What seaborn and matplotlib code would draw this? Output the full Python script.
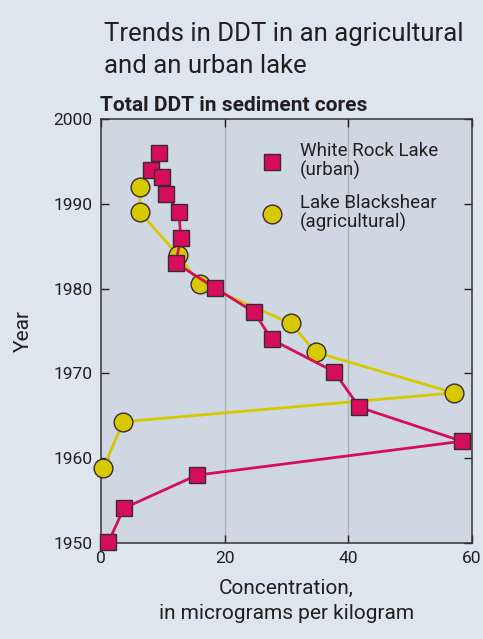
"""Trends in DDT in sediment cores: urban vs agricultural lake."""

import matplotlib
matplotlib.use("Agg")
import matplotlib.pyplot as plt
from matplotlib.lines import Line2D
import pandas as pd
import seaborn as sns

# White Rock Lake (urban) -- squares
white_rock_year = [1996.0, 1994.0, 1993.2, 1991.1, 1989.0, 1986.0, 1983.0, 1980.1,
                   1977.2, 1974.0, 1970.2, 1966.0, 1962.0, 1958.0, 1954.1, 1950.1]
white_rock_conc = [9.4, 8.1, 9.8, 10.5, 12.6, 12.9, 12.1, 18.4,
                   24.8, 27.6, 37.7, 41.8, 58.4, 15.5, 3.7, 1.2]

# Lake Blackshear (agricultural) -- circles
blackshear_year = [1992.0, 1989.0, 1984.0, 1980.6, 1975.9, 1972.5, 1967.7, 1964.3, 1958.9]
blackshear_conc = [6.3, 6.3, 12.4, 16.0, 30.7, 34.7, 57.1, 3.6, 0.4]

x_ticks = [0, 20, 40, 60]
y_ticks = [1950, 1960, 1970, 1980, 1990, 2000]

PINK = "#D60D5C"
YELLOW = "#D8C800"
EDGE = "#3a2a30"
BG = "#DDE5EE"
AX_BG = "#CFD8E2"
TXT = "#231F20"

sns.set_theme(style="white")
plt.rcParams["font.family"] = ["Roboto", "DejaVu Sans"]

wr = pd.DataFrame({"conc": white_rock_conc, "year": white_rock_year})
bs = pd.DataFrame({"conc": blackshear_conc, "year": blackshear_year})

fig = plt.figure(figsize=(4.83, 6.39), dpi=100, facecolor=BG)
ax = fig.add_axes([101 / 483, 1 - 543 / 639, 371 / 483, 424 / 639])
ax.set_facecolor(AX_BG)

for xv in [20, 40]:
    ax.axvline(xv, color="#aab0b8", lw=1.0, zorder=0)

sns.lineplot(data=bs, x="conc", y="year", sort=False, estimator=None, ax=ax,
             color=YELLOW, lw=2.0, marker="o", markersize=13.5,
             markerfacecolor=YELLOW, markeredgecolor=EDGE, markeredgewidth=1.0,
             clip_on=False, zorder=3)
sns.lineplot(data=wr, x="conc", y="year", sort=False, estimator=None, ax=ax,
             color=PINK, lw=2.0, marker="s", markersize=12,
             markerfacecolor=PINK, markeredgecolor=EDGE, markeredgewidth=1.0,
             clip_on=False, zorder=4)

ax.set_xlim(0, 60)
ax.set_ylim(1950, 2000)
ax.set_xticks(x_ticks)
ax.set_yticks(y_ticks)
ax.tick_params(direction="in", length=6, width=1, color=TXT,
               top=True, right=True, bottom=True, left=True,
               labelsize=12.5, labelcolor=TXT, pad=6)
for s in ax.spines.values():
    s.set_color("#333333")
    s.set_linewidth(1.1)

ax.set_xlabel("Concentration,\nin micrograms per kilogram", fontsize=15,
              color=TXT, labelpad=9, linespacing=1.4)
ax.set_ylabel("Year", fontsize=15, color=TXT, labelpad=15)

handles = [
    Line2D([], [], ls="none", marker="s", markersize=12, markerfacecolor=PINK,
           markeredgecolor=EDGE, markeredgewidth=1.0),
    Line2D([], [], ls="none", marker="o", markersize=13.5, markerfacecolor=YELLOW,
           markeredgecolor=EDGE, markeredgewidth=1.0),
]
leg = ax.legend(handles, ["White Rock Lake\n(urban)", "Lake Blackshear\n(agricultural)"],
                loc="upper left", bbox_to_anchor=(0.385, 0.985), frameon=False,
                fontsize=13.5, handletextpad=0.9, labelspacing=0.75,
                handlelength=1.2)
for t in leg.get_texts():
    t.set_color(TXT)
    t.set_linespacing(1.05)

fig.text(104 / 483, 1 - 73 / 639, "Trends in DDT in an agricultural\nand an urban lake",
         ha="left", va="baseline", fontsize=18.5, color=TXT, linespacing=1.4,
         fontweight="normal")
fig.text(100 / 483, 1 - 111 / 639, "Total DDT in sediment cores", ha="left",
         va="baseline", fontsize=15, fontweight="bold", color=TXT)

fig.savefig("out.png", dpi=100, facecolor=BG)
